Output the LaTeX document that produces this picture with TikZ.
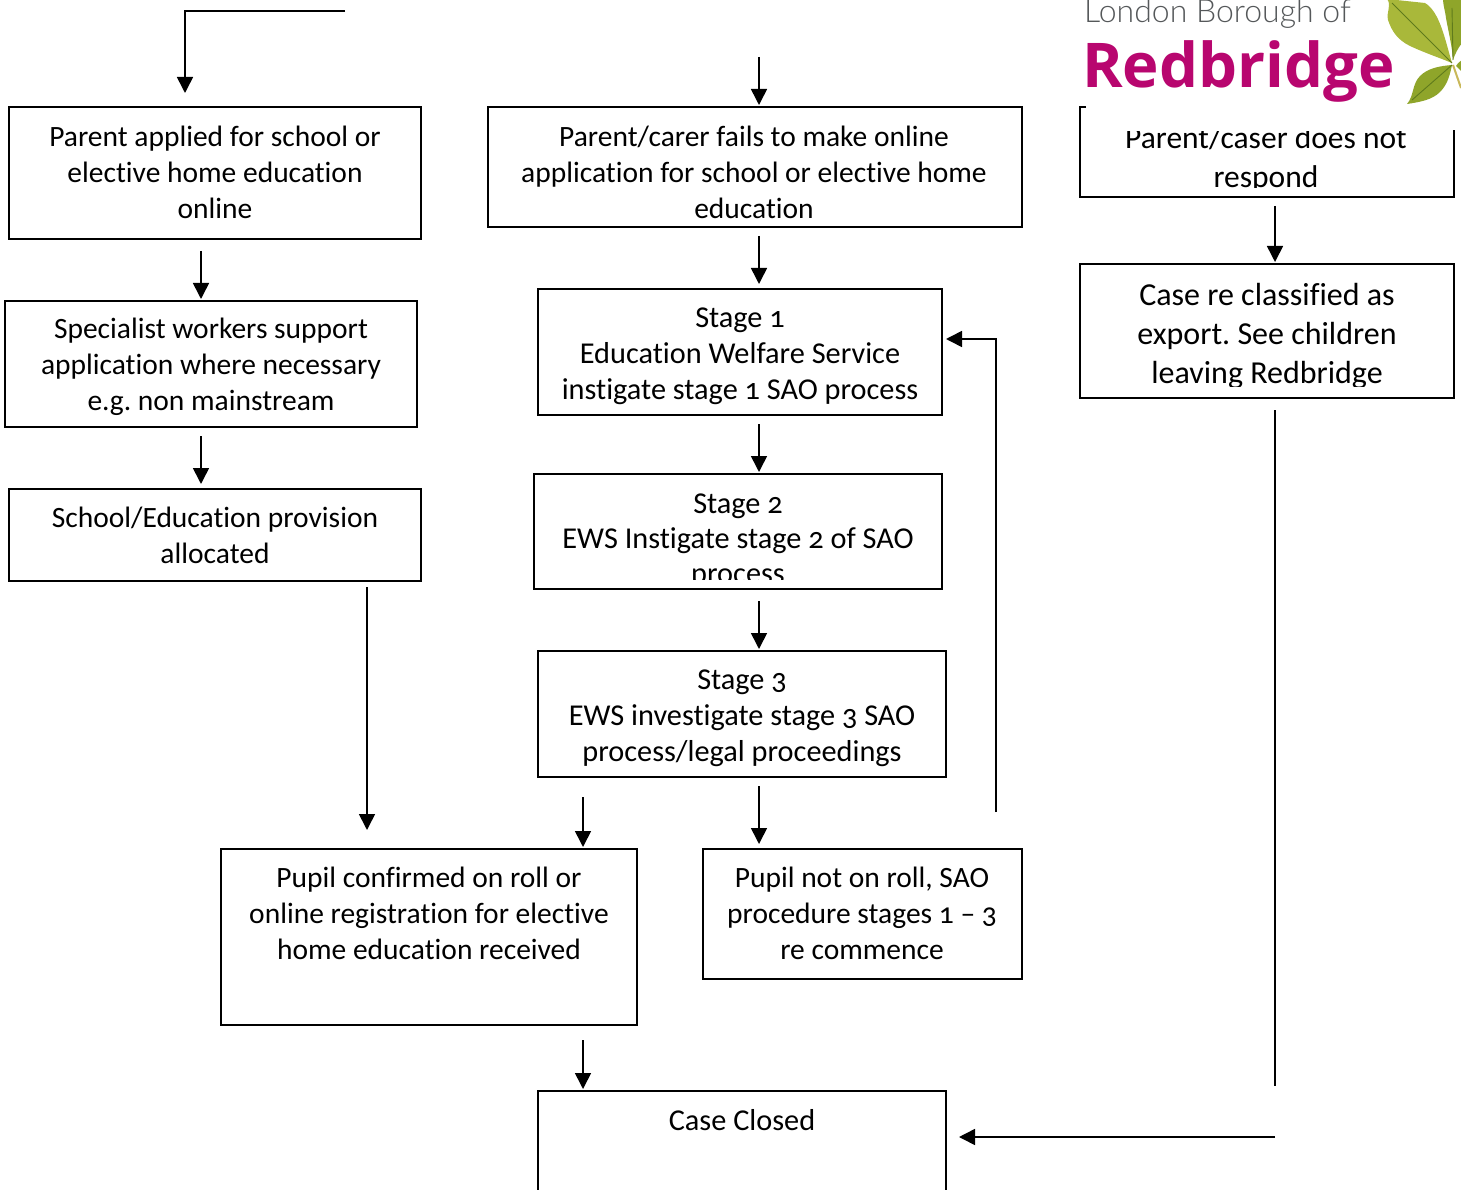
\documentclass[tikz,border=0pt]{standalone}
\usepackage{fontspec}
\setmainfont[Numbers=OldStyle,Ligatures=NoCommon]{Carlito}
\newfontfamily\logolight{Lato Light}
\newfontfamily\logobold{Open Sans}
\usetikzlibrary{arrows.meta}
\definecolor{logomag}{HTML}{B8066F}
\definecolor{logogrey}{HTML}{55585A}
\definecolor{leafa}{HTML}{A9B83A}
\definecolor{leafb}{HTML}{8FA52A}
\definecolor{leafv}{HTML}{5F7A1C}
\definecolor{leafs}{HTML}{C9B85A}
\tikzset{
  x=1pt,y=-1pt,
  boxa/.style={draw=black,line width=1.9pt,fill=white},
  edge/.style={draw=black,line width=1.6pt},
  conn/.style={edge,-{Triangle[length=16pt,width=16pt]}},
  lab/.style={align=center,inner sep=0pt,font=\fontsize{29.5}{36}\selectfont},
  labs/.style={align=center,inner sep=0pt,font=\fontsize{30.3}{36}\selectfont},
  labb/.style={align=center,inner sep=0pt,font=\fontsize{32}{39}\selectfont},
  leaf/.style={fill=leafa,draw=none},
  vein/.style={draw=leafv,line width=0.9pt}
}
\begin{document}
\frenchspacing
\begin{tikzpicture}
\useasboundingbox (0,0) rectangle (1461,1190);
\begin{scope}
\clip (0,0) rectangle (1461,1190);
% boxes
\path[boxa] (9,107) rectangle (421,239);
\path[boxa] (5,301) rectangle (417,427);
\path[boxa] (9,489) rectangle (421,581);
\path[boxa] (488,107) rectangle (1022,227);
\path[boxa] (538,289) rectangle (942,415);
\path[boxa] (534,474) rectangle (942,589);
\path[boxa] (538,651) rectangle (946,777);
\path[boxa] (221,849) rectangle (637,1025);
\path[boxa] (703,849) rectangle (1022,979);
\path[boxa] (538,1091) rectangle (946,1200);
\path[boxa] (1080,264) rectangle (1454,398);
\draw[boxa,fill=none] (1086,107) -- (1080,107) -- (1080,197) -- (1454,197) -- (1454,130);
% labels
\node[lab] (ta) at (215,172) {Parent applied for school or\\elective home education\\online};
\node[lab] (tb) at (211,367) {Specialist workers support\\application where necessary\\e.g. non mainstream};
\node[lab] (tc) at (215,535) {School/Education provision\\allocated};
\node[lab] (td) at (754,172) {Parent/carer fails to make online\\application for school or elective home\\education};
\node[labs] (te) at (740,356) {Stage 1\\Education Welfare Service\\instigate stage 1 SAO process};
\begin{scope}
\clip (534,474) rectangle (942,579);
\node[labs,font=\fontsize{30.3}{35}\selectfont] (tf) at (738,541.5) {Stage 2\\EWS Instigate stage 2 of SAO\\process};
\end{scope}
\node[labs] (tg) at (742,718) {Stage 3\\EWS investigate stage 3 SAO\\process/legal proceedings};
\node[lab] (th) at (429,913) {Pupil confirmed on roll or\\online registration for elective\\home education received};
\node[lab] (ti) at (862,913) {Pupil not on roll, SAO\\procedure stages 1 – 3\\re commence};
\node[labs] (tj) at (742,1120) {Case Closed};
\begin{scope}
\clip (1082,132) rectangle (1452,188);
\node[lab,font=\fontsize{31.5}{39}\selectfont] (tk) at (1266,160) {Parent/caser does not\\respond};
\end{scope}
\begin{scope}
\clip (1082,266) rectangle (1452,386);
\node[labb] (tl) at (1267,336) {Case re classified as\\export. See children\\leaving Redbridge};
\end{scope}
% connectors
\coordinate (a0) at (345,11); \coordinate (a1) at (185,11); \coordinate (a2) at (185,93);
\draw[conn] (a0) -- (a1) -- (a2);
\coordinate (b0) at (759,57); \coordinate (b1) at (759,105);
\draw[conn] (b0) -- (b1);
\coordinate (c0) at (201,251); \coordinate (c1) at (201,299);
\draw[conn] (c0) -- (c1);
\coordinate (d0) at (201,436); \coordinate (d1) at (201,484);
\draw[conn] (d0) -- (d1);
\coordinate (e0) at (759,236); \coordinate (e1) at (759,284);
\draw[conn] (e0) -- (e1);
\coordinate (f0) at (759,424); \coordinate (f1) at (759,472);
\draw[conn] (f0) -- (f1);
\coordinate (g0) at (759,601); \coordinate (g1) at (759,649);
\draw[conn] (g0) -- (g1);
\coordinate (h0) at (367,587); \coordinate (h1) at (367,830);
\draw[conn] (h0) -- (h1);
\coordinate (i0) at (583,797); \coordinate (i1) at (583,847);
\draw[conn] (i0) -- (i1);
\coordinate (j0) at (759,786); \coordinate (j1) at (759,844);
\draw[conn] (j0) -- (j1);
\coordinate (k0) at (583,1040); \coordinate (k1) at (583,1089);
\draw[conn] (k0) -- (k1);
\coordinate (l0) at (996,812); \coordinate (l1) at (996,339); \coordinate (l2) at (946,339);
\draw[conn] (l0) -- (l1) -- (l2);
\coordinate (m0) at (1275,206); \coordinate (m1) at (1275,262);
\draw[conn] (m0) -- (m1);
\coordinate (n0) at (1275,410); \coordinate (n1) at (1275,1086);
\draw[edge] (n0) -- (n1);
\coordinate (o0) at (1275,1137); \coordinate (o1) at (959,1137);
\draw[conn] (o0) -- (o1);
% logo
\node[anchor=base west,inner sep=0pt,text=logogrey,font=\logolight\fontsize{32}{36}\selectfont] (lg1) at (1084,22.5) {London Borough of};
\node[anchor=base west,inner sep=0pt,text=logomag,font=\logobold\bfseries\fontsize{61.7}{70}\selectfont] (lg2) at (1082,88) {Redbridge};
% leaf
\path[leaf] (1452,63) .. controls (1445,40) and (1440,12) .. (1425,3) -- (1387,-1) .. controls (1392,5) and (1386,12) .. (1388,20) .. controls (1392,32) and (1398,40) .. (1410,46) .. controls (1425,53) and (1440,58) .. (1452,63) -- cycle;
\path[leaf,fill=leafb] (1452,65) .. controls (1440,66) and (1428,68) .. (1420,76) .. controls (1412,84) and (1414,96) .. (1407,104) .. controls (1420,102) and (1432,100) .. (1440,92) .. controls (1448,84) and (1450,74) .. (1452,65) -- cycle;
\path[leaf,fill=leafb] (1453,60) .. controls (1452,45) and (1448,30) .. (1446,18) .. controls (1445,10) and (1443,5) .. (1443,-1) -- (1462,-1) -- (1462,43) .. controls (1458,48) and (1455,54) .. (1453,60) -- cycle;
\path[leaf,fill=leafb] (1456,66) .. controls (1458,63) and (1460,61) .. (1462,60) -- (1462,72) .. controls (1460,70) and (1458,68) .. (1456,66) -- cycle;
\draw[draw=leafs,line width=2pt] (1453,65) -- (1461,88);
\draw[vein] (1452,63) -- (1392,3);
\draw[vein] (1452,65) -- (1412,100);
\draw[vein] (1453,60) -- (1452,8);
\end{scope}
\end{tikzpicture}
\end{document}
